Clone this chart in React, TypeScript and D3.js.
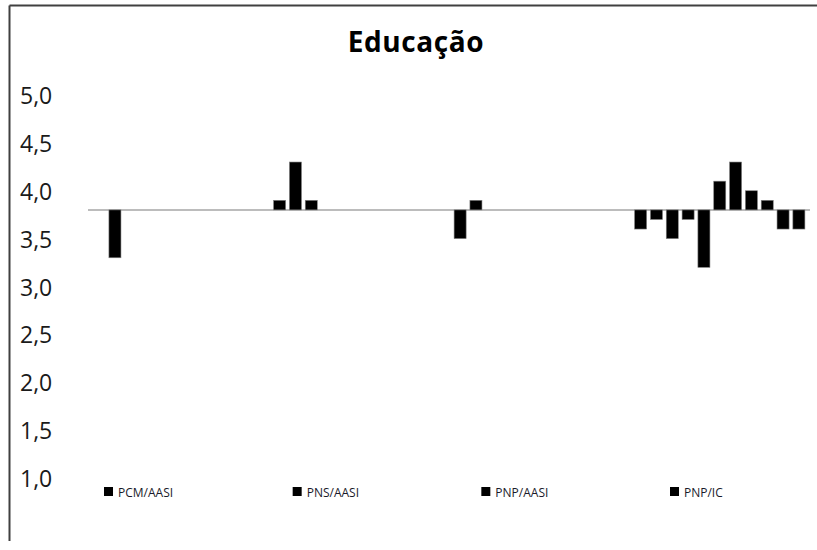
import React, { useRef, useEffect } from "react";
import * as d3 from "d3";

// Categories (each holds up to 11 clustered slots, blanks are null)
const categories = ["PCM/AASI", "PNS/AASI", "PNP/AASI", "PNP/IC"];
const pcmAasi = [null, 3.3, null, null, null, null, null, null, null, null, null];
const pnsAasi = [3.9, 4.3, 3.9, null, null, null, null, null, null, null, null];
const pnpAasi = [3.5, 3.9, null, null, null, null, null, null, null, null, null];
const pnpIc = [3.6, 3.7, 3.5, 3.7, 3.2, 4.1, 4.3, 4.0, 3.9, 3.6, 3.6];
const baselineValue = 3.8;
const yTicks = [5.0, 4.5, 4.0, 3.5, 3.0, 2.5, 2.0, 1.5, 1.0];
const title = "Educação";

const App = () => {
  const chartRef = useRef(null);

  useEffect(() => {
    const container = d3.select(chartRef.current);
    container.select("svg").remove();

    const width = 817;
    const height = 550;
    const font = "'Open Sans', 'DejaVu Sans', sans-serif";

    const svg = container
      .append("svg")
      .attr("width", width)
      .attr("height", height)
      .style("position", "absolute")
      .style("left", "0px")
      .style("top", "0px")
      .style("background", "#fff");

    // frame (only top and left edges visible)
    svg.append("line")
      .attr("x1", 9.5).attr("x2", width).attr("y1", 5.5).attr("y2", 5.5)
      .attr("stroke", "#404040").attr("stroke-width", 2);
    svg.append("line")
      .attr("x1", 9.5).attr("x2", 9.5).attr("y1", 5.5).attr("y2", 541)
      .attr("stroke", "#404040").attr("stroke-width", 2);

    // title
    svg.append("text")
      .attr("x", 416)
      .attr("y", 52)
      .attr("text-anchor", "middle")
      .style("font-family", font)
      .style("font-weight", "bold")
      .style("font-size", "28px")
      .style("letter-spacing", "0.6px")
      .style("fill", "#000")
      .text(title);

    const yScale = d3.scaleLinear().domain([1, 5]).range([478, 95]);

    // y labels
    svg.selectAll(".ylab")
      .data(yTicks)
      .enter()
      .append("text")
      .attr("class", "ylab")
      .attr("x", 20)
      .attr("y", (d) => yScale(d))
      .attr("dominant-baseline", "central")
      .style("font-family", font)
      .style("font-size", "23px")
      .style("fill", "#1a1a1a")
      .text((d) => d.toFixed(1).replace(".", ","));

    const series = [pcmAasi, pnsAasi, pnpAasi, pnpIc];
    const slotCount = d3.max(series, (s) => s.length);

    const xScale = d3.scaleBand().domain(categories).range([88, 810]).padding(0);
    const slotScale = d3
      .scaleBand()
      .domain(d3.range(slotCount).map(String))
      .range([3.2, xScale.bandwidth() - 3.2])
      .paddingInner(0.24)
      .paddingOuter(0.12);

    // baseline
    svg.append("line")
      .attr("x1", 88).attr("x2", 810)
      .attr("y1", yScale(baselineValue)).attr("y2", yScale(baselineValue))
      .attr("stroke", "#a6a6a6").attr("stroke-width", 1.5);

    const bars = [];
    series.forEach((vals, ci) => {
      vals.forEach((v, si) => {
        if (v != null) bars.push({ cat: categories[ci], slot: String(si), v });
      });
    });

    svg.selectAll(".bar")
      .data(bars)
      .enter()
      .append("rect")
      .attr("class", "bar")
      .attr("x", (d) => xScale(d.cat) + slotScale(d.slot))
      .attr("width", slotScale.bandwidth())
      .attr("y", (d) => Math.min(yScale(d.v), yScale(baselineValue)))
      .attr("height", (d) => Math.abs(yScale(d.v) - yScale(baselineValue)))
      .style("fill", "#000")
      .style("stroke", "#808080")
      .style("stroke-width", 0.6);

    // legend
    const legendScale = d3.scalePoint().domain(categories).range([104, 670]);
    const legend = svg.selectAll(".legend")
      .data(categories)
      .enter()
      .append("g")
      .attr("class", "legend")
      .attr("transform", (d) => `translate(${legendScale(d)}, 487)`);
    legend.append("rect")
      .attr("width", 9).attr("height", 9)
      .style("fill", "#000");
    legend.append("text")
      .attr("x", 14)
      .attr("y", 9.5)
      .style("font-family", font)
      .style("font-size", "12px")
      .style("fill", "#1a1a2a")
      .text((d) => d);
  }, []);

  return <div ref={chartRef} />;
};

export default App;
